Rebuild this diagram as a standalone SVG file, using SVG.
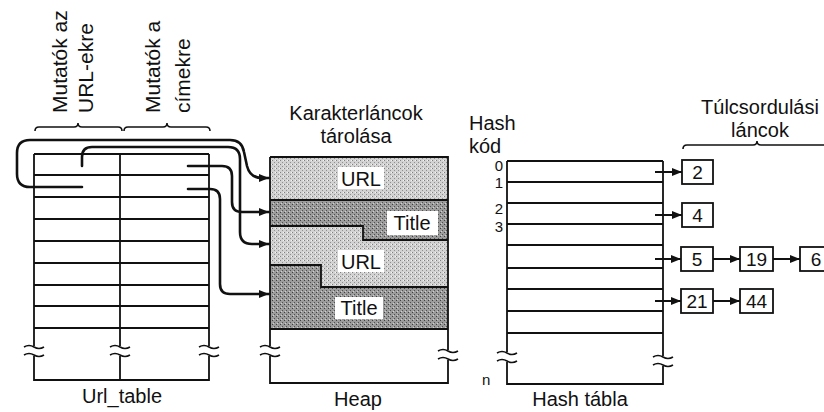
<svg xmlns="http://www.w3.org/2000/svg" width="824" height="412" viewBox="0 0 824 412">
<defs>
<style>
text{font-family:"Liberation Sans",Arial,sans-serif;fill:#111;}
.lbl{font-size:20px;}
.rot{font-size:21px;}
.idx{font-size:15px;}
.num{font-size:19px;text-anchor:middle;}
.tbl{fill:none;stroke:#111;stroke-width:1.8;}
.conn{fill:none;stroke:#111;stroke-width:2.6;stroke-linecap:round;stroke-linejoin:round;}
.arr{fill:none;stroke:#111;stroke-width:2;}
.brace{fill:none;stroke:#111;stroke-width:1.6;}
.brk{fill:none;stroke:#111;stroke-width:1.6;}
.box{fill:#fff;stroke:#111;stroke-width:1.8;}
.wbox{fill:#fff;stroke:none;}
.bnd{fill:none;stroke:#111;stroke-width:1.8;}
</style>
<pattern id="lightP" width="4" height="4" patternUnits="userSpaceOnUse">
<rect width="4" height="4" fill="#d2d2d2"/>
<rect x="0" y="0" width="1" height="1" fill="#808080"/>
<rect x="2" y="2" width="1" height="1" fill="#909090"/>
<rect x="3" y="0" width="1" height="1" fill="#f4f4f4"/>
</pattern>
<pattern id="darkP" width="4" height="4" patternUnits="userSpaceOnUse">
<rect width="4" height="4" fill="#9c9c9c"/>
<rect x="0" y="0" width="1" height="1" fill="#404040"/>
<rect x="2" y="2" width="1" height="1" fill="#505050"/>
<rect x="1" y="3" width="1" height="1" fill="#d0d0d0"/>
</pattern>
<marker id="ah" markerUnits="userSpaceOnUse" markerWidth="10" markerHeight="8" refX="10" refY="4" orient="auto">
<path d="M0,0 L10,4 L0,8 z" fill="#111"/>
</marker>
</defs>

<!-- Url_table -->
<g id="url_table">
<path class="tbl" d="M34,154 H209 M34,175 H209 M34,197 H209 M34,219 H209 M34,241 H209 M34,263 H209 M34,285 H209 M34,306 H209 M34,328 H209"/>
<path class="tbl" d="M34,154 V346 M34,356 V380 H209 V356 M209,346 V154 M120,154 V346 M120,356 V380"/>
<path class="brk" d="M24,347 q5,-3 10,0 t10,0 M24,355 q5,-3 10,0 t10,0 M110,347 q5,-3 10,0 t10,0 M110,355 q5,-3 10,0 t10,0 M199,347 q5,-3 10,0 t10,0 M199,355 q5,-3 10,0 t10,0"/>
<text class="lbl" x="122" y="403" text-anchor="middle">Url_table</text>
</g>

<g id="label_url_ptrs">
<path class="brace" d="M35,131 Q35,127 39,127 H74 Q78,127 78,123 Q78,127 82,127 H118 Q122,127 122,131"/>
<text class="rot" transform="translate(67,113) rotate(-90)">Mutatók az</text>
<text class="rot" transform="translate(93,113) rotate(-90)">URL-ekre</text>
</g>
<g id="label_title_ptrs">
<path class="brace" d="M124,131 Q124,127 128,127 H163 Q167,127 167,123 Q167,127 171,127 H206 Q210,127 210,131"/>
<text class="rot" transform="translate(160,113) rotate(-90)">Mutatók a</text>
<text class="rot" transform="translate(190,113) rotate(-90)">címekre</text>
</g>

<!-- Heap -->
<g id="heap">
<text class="lbl" x="356" y="120" text-anchor="middle">Karakterláncok</text>
<text class="lbl" x="356" y="143" text-anchor="middle">tárolása</text>
<rect x="270" y="157" width="178" height="43" fill="url(#lightP)"/>
<polygon points="270,200 448,200 448,240 363,240 363,226 270,226" fill="url(#darkP)"/>
<polygon points="270,226 363,226 363,240 448,240 448,287 321,287 321,265 270,265" fill="url(#lightP)"/>
<polygon points="270,265 321,265 321,287 448,287 448,329 270,329" fill="url(#darkP)"/>
<path class="bnd" d="M270,200 H448 M270,226 H363 V240 H448 M270,265 H321 V287 H448 M270,329 H448"/>
<path class="tbl" d="M270,157 H448 V350 M448,360 V383 H270 V356 M270,346 V157"/>
<path class="brk" d="M260,347 q5,-3 10,0 t10,0 M260,355 q5,-3 10,0 t10,0 M438,351 q5,-3 10,0 t10,0 M438,359 q5,-3 10,0 t10,0"/>
<rect class="wbox" x="338" y="167" width="46" height="22"/>
<text class="lbl" x="361" y="186" text-anchor="middle">URL</text>
<rect class="wbox" x="387" y="211" width="51" height="24"/>
<text class="lbl" x="412" y="230" text-anchor="middle">Title</text>
<rect class="wbox" x="338" y="250" width="46" height="22"/>
<text class="lbl" x="361" y="269" text-anchor="middle">URL</text>
<rect class="wbox" x="335" y="297" width="48" height="22"/>
<text class="lbl" x="359" y="315" text-anchor="middle">Title</text>
<text class="lbl" x="358" y="406" text-anchor="middle">Heap</text>
</g>

<!-- Hash table -->
<g id="hash_table">
<text class="lbl" x="469" y="130">Hash</text>
<text class="lbl" x="469" y="153">kód</text>
<path class="tbl" d="M507,161 H663 M507,182 H663 M507,203 H663 M507,224 H663 M507,245 H663 M507,268 H663 M507,289 H663 M507,311 H663 M507,333 H663"/>
<path class="tbl" d="M507,161 V352 M507,362 V384 H663 V366 M663,356 V161"/>
<path class="brk" d="M497,353 q5,-3 10,0 t10,0 M497,361 q5,-3 10,0 t10,0 M653,357 q5,-3 10,0 t10,0 M653,365 q5,-3 10,0 t10,0"/>
<text class="idx" x="503" y="171" text-anchor="end">0</text>
<text class="idx" x="503" y="188" text-anchor="end">1</text>
<text class="idx" x="503" y="214" text-anchor="end">2</text>
<text class="idx" x="503" y="232" text-anchor="end">3</text>
<text class="idx" x="482" y="385">n</text>
<text class="lbl" x="580" y="406" text-anchor="middle">Hash tábla</text>
</g>

<g id="overflow_label">
<text class="lbl" x="760" y="114" text-anchor="middle">Túlcsordulási</text>
<text class="lbl" x="760" y="137" text-anchor="middle">láncok</text>
<path class="brace" d="M683,149 Q683,145 687,145 H753 Q757,145 757,141 Q757,145 761,145 H830"/>
</g>

<g id="n2"><rect class="box" x="682" y="160" width="31" height="24"/><text class="num" x="697.5" y="179">2</text></g>
<g id="n4"><rect class="box" x="682" y="203" width="31" height="24"/><text class="num" x="697.5" y="222">4</text></g>
<g id="n5"><rect class="box" x="681" y="247" width="32" height="24"/><text class="num" x="697" y="266">5</text></g>
<g id="n19"><rect class="box" x="740" y="247" width="33" height="24"/><text class="num" x="756.5" y="266">19</text></g>
<g id="n6"><rect class="box" x="800" y="247" width="33" height="24"/><text class="num" x="816" y="266">6</text></g>
<g id="n21"><rect class="box" x="681" y="289" width="32" height="24"/><text class="num" x="697" y="308">21</text></g>
<g id="n44"><rect class="box" x="740" y="289" width="33" height="24"/><text class="num" x="756.5" y="308">44</text></g>

<!-- Connectors -->
<g id="connectors">
<path class="conn" marker-end="url(#ah)" d="M82,166 V157 Q82,147 92,147 H228 Q240,147 240,159 V232 Q240,244 252,244 H269"/>
<path class="conn" marker-end="url(#ah)" d="M82,187 H30 Q17,187 17,174 V153 Q17,140 30,140 H230 Q242,140 244,152 L247,166 Q250,178 262,178 H269"/>
<path class="conn" marker-end="url(#ah)" d="M188,166 H222 Q232,166 232,176 V202 Q232,212 242,212 H269"/>
<path class="conn" marker-end="url(#ah)" d="M188,189 H210 Q220,189 220,199 V284 Q220,294 230,294 H269"/>
<path class="arr" marker-end="url(#ah)" d="M655,172 H682"/>
<path class="arr" marker-end="url(#ah)" d="M655,215 H682"/>
<path class="arr" marker-end="url(#ah)" d="M655,259 H681"/>
<path class="arr" marker-end="url(#ah)" d="M713,259 H740"/>
<path class="arr" marker-end="url(#ah)" d="M773,259 H800"/>
<path class="arr" marker-end="url(#ah)" d="M655,301 H681"/>
<path class="arr" marker-end="url(#ah)" d="M713,301 H740"/>
</g>
</svg>
